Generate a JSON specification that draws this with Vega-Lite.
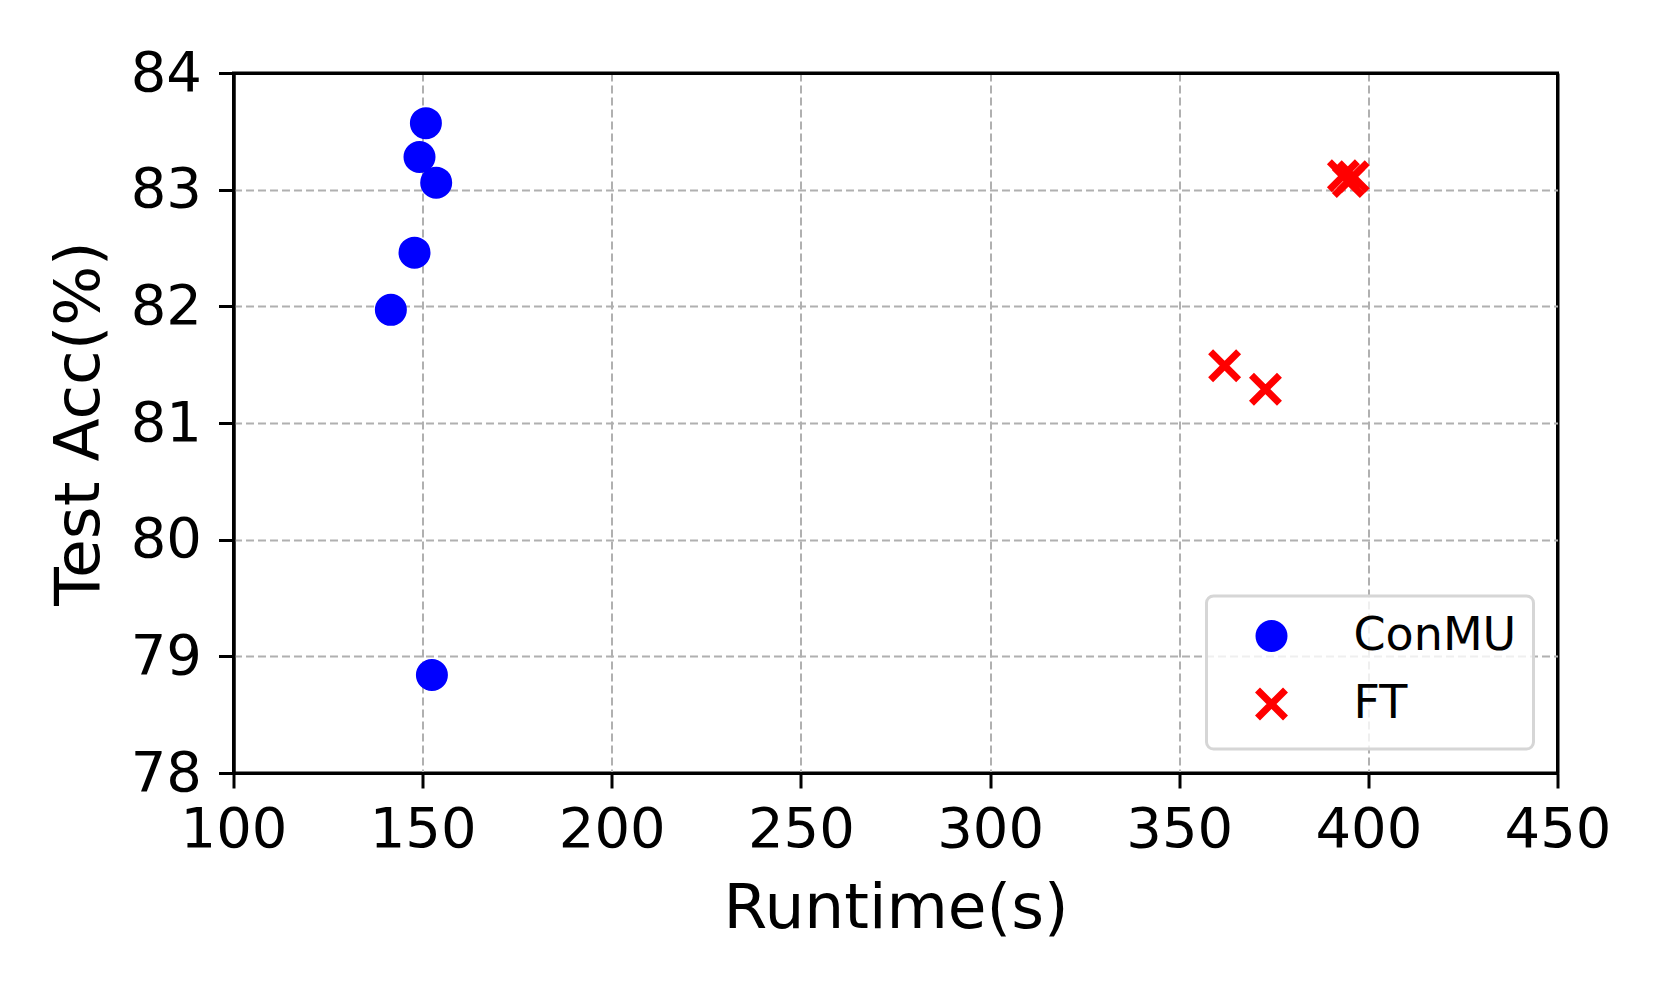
{
  "$schema": "https://vega.github.io/schema/vega-lite/v6.json",
  "width": 1324,
  "height": 700,
  "autosize": {"type": "none"},
  "padding": {"left": 233.5, "top": 73, "right": 103.5, "bottom": 224},
  "background": "white",
  "data": {"values": [
    {"method": "ConMU", "runtime": 150.86, "acc": 83.57},
    {"method": "ConMU", "runtime": 149.17, "acc": 83.28},
    {"method": "ConMU", "runtime": 153.58, "acc": 83.06},
    {"method": "ConMU", "runtime": 147.85, "acc": 82.46},
    {"method": "ConMU", "runtime": 141.6, "acc": 81.97},
    {"method": "ConMU", "runtime": 152.45, "acc": 78.84},
    {"method": "FT", "runtime": 362.0, "acc": 81.49},
    {"method": "FT", "runtime": 372.8, "acc": 81.29},
    {"method": "FT", "runtime": 393.4, "acc": 83.12},
    {"method": "FT", "runtime": 394.7, "acc": 83.07},
    {"method": "FT", "runtime": 396.0, "acc": 83.11}
  ]},
  "mark": {"type": "point", "filled": false, "opacity": 1, "strokeCap": "butt"},
  "encoding": {
    "x": {"field": "runtime", "type": "quantitative", "title": "Runtime(s)",
      "scale": {"domain": [100, 450], "nice": false, "zero": false},
      "axis": {"values": [100, 150, 200, 250, 300, 350, 400, 450], "titlePadding": 20, "labelPadding": 14,
        "gridColor": {"condition": {"test": "datum.value == 450 || datum.value == 100", "value": "black"}, "value": "#b0b0b0"},
        "gridWidth": {"condition": {"test": "datum.value == 450 || datum.value == 100", "value": 3}, "value": 2},
        "gridDash": {"condition": {"test": "datum.value == 450 || datum.value == 100", "value": []}, "value": [8, 4]}}},
    "y": {"field": "acc", "type": "quantitative", "title": "Test Acc(%)",
      "scale": {"domain": [78, 84], "nice": false, "zero": false},
      "axis": {"values": [78, 79, 80, 81, 82, 83, 84], "titlePadding": 19, "labelPadding": 17,
        "gridColor": {"condition": {"test": "datum.value == 84 || datum.value == 78", "value": "black"}, "value": "#b0b0b0"},
        "gridWidth": {"condition": {"test": "datum.value == 84 || datum.value == 78", "value": 3}, "value": 2},
        "gridDash": {"condition": {"test": "datum.value == 84 || datum.value == 78", "value": []}, "value": [8, 4]}}},
    "color": {"field": "method", "type": "nominal",
      "scale": {"domain": ["ConMU", "FT"], "range": ["#0000ff", "#ff0000"]},
      "legend": {"title": null}},
    "shape": {"field": "method", "type": "nominal",
      "scale": {"domain": ["ConMU", "FT"], "range": ["circle", "M-1,-1L1,1M1,-1L-1,1"]},
      "legend": {"title": null}},
    "size": {"field": "method", "type": "nominal",
      "scale": {"domain": ["ConMU", "FT"], "range": [256, 784]},
      "legend": {"title": null}},
    "strokeWidth": {"field": "method", "type": "nominal",
      "scale": {"domain": ["ConMU", "FT"], "range": [16, 7]},
      "legend": {"title": null}}
  },
  "config": {
    "font": "DejaVu Sans",
    "view": {"stroke": "black", "strokeWidth": 3},
    "axis": {
      "domainColor": "black", "domainWidth": 3,
      "tickColor": "black", "tickWidth": 3, "tickSize": 15,
      "labelFont": "DejaVu Sans", "labelFontSize": 56, "labelColor": "black",
      "titleFont": "DejaVu Sans", "titleFontSize": 63, "titleFontWeight": "normal", "titleColor": "black",
      "grid": true,
      "labelFlush": false, "labelOverlap": false
    },
    "legend": {
      "orient": "bottom-right", "offset": 24,
      "strokeColor": "#d6d6d6", "strokeWidth": 3, "cornerRadius": 7,
      "fillColor": "rgba(255,255,255,0.8)",
      "padding": 17, "labelFont": "DejaVu Sans", "labelFontSize": 46, "labelColor": "black",
      "labelLimit": 600,
      "labelOffset": 59, "symbolOffset": 25, "rowPadding": 0
    }
  }
}
